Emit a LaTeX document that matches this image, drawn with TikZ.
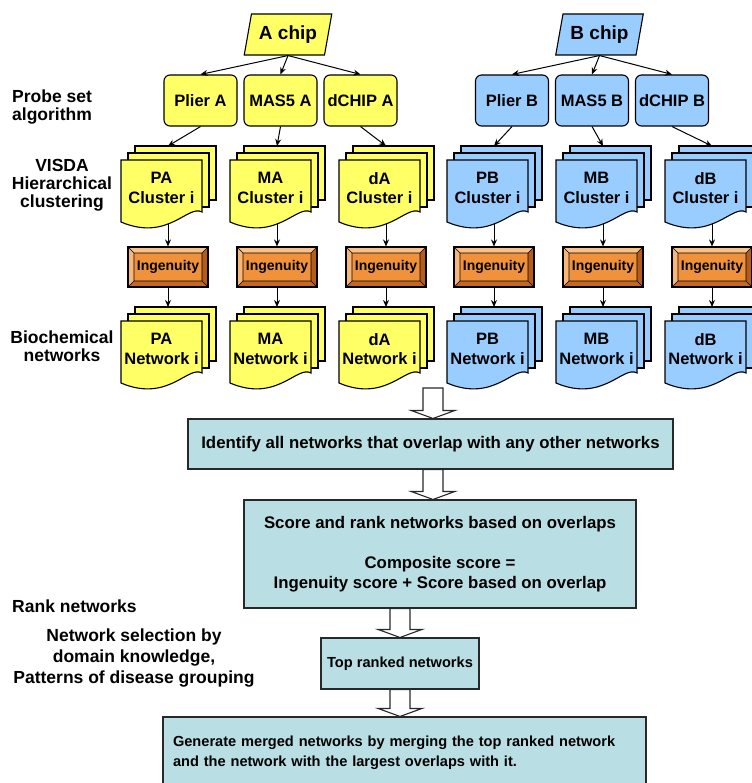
\documentclass[tikz,border=0pt]{standalone}
\usepackage{fontspec}
\setmainfont{Liberation Sans}
\usetikzlibrary{shapes.geometric,calc,arrows.meta}

\definecolor{chipyellow}{RGB}{255,255,102}
\definecolor{chipblue}{RGB}{153,204,255}
\definecolor{ingorange}{RGB}{240,145,60}
\definecolor{inglight}{RGB}{250,192,135}
\definecolor{ingdark}{RGB}{180,92,28}
\definecolor{flowteal}{RGB}{185,222,227}
\definecolor{edgegray}{RGB}{40,40,40}
\def\chipfont{\fontsize{19}{22}\selectfont\bfseries}
\def\docfont{\fontsize{16.5}{19.5}\selectfont\bfseries}
\def\ingfont{\fontsize{14}{16}\selectfont\bfseries}
\def\sidefont{\fontsize{17.5}{18}\selectfont\bfseries}
\def\selfont{\fontsize{17.5}{21}\selectfont\bfseries}
\def\flowfont{\fontsize{16.8}{20}\selectfont\bfseries}
\def\smallflowfont{\fontsize{14.6}{20}\selectfont\bfseries}
\tikzstyle{chip}=[draw,trapezium,trapezium left angle=72,trapezium right angle=108,
                  trapezium stretches=true,minimum width=88pt,minimum height=41pt,
                  inner sep=0pt,line width=1.1pt,font=\chipfont]
\tikzstyle{algo}=[draw,rounded corners=6pt,minimum width=73pt,minimum height=51pt,
                  inner sep=0pt,line width=1.1pt,font=\docfont]
\tikzstyle{sheet}=[draw,line width=1.1pt]
\tikzstyle{doctext}=[align=center,inner sep=0pt,font=\docfont]
\tikzstyle{ingenuity}=[draw,fill=ingorange,line width=1.1pt,minimum width=80pt,
                  minimum height=40pt,inner sep=0pt,font=\ingfont,
  path picture={
    \path (path picture bounding box.north west) coordinate (bnw)
          (path picture bounding box.north east) coordinate (bne)
          (path picture bounding box.south east) coordinate (bse)
          (path picture bounding box.south west) coordinate (bsw);
    \path ([shift={(6pt,-6pt)}]bnw) coordinate (inw)
          ([shift={(-6pt,-6pt)}]bne) coordinate (ine)
          ([shift={(-6pt,6pt)}]bse) coordinate (ise)
          ([shift={(6pt,6pt)}]bsw) coordinate (isw);
    \fill[inglight] (bnw) -- (bne) -- (ine) -- (inw) -- cycle;
    \fill[inglight!80!ingorange] (bnw) -- (inw) -- (isw) -- (bsw) -- cycle;
    \fill[ingdark] (bne) -- (bse) -- (ise) -- (ine) -- cycle;
    \fill[ingdark!75!ingorange] (bsw) -- (isw) -- (ise) -- (bse) -- cycle;
    \draw[line width=0.6pt] (inw) rectangle (ise) (bnw) -- (inw) (bne) -- (ine)
          (bse) -- (ise) (bsw) -- (isw);
  }]
\tikzstyle{flow}=[draw=edgegray,fill=flowteal,line width=1.1pt,align=center,inner sep=0pt]
\tikzstyle{side}=[inner sep=0pt,font=\sidefont]
\tikzstyle{link}=[-{Stealth[length=7pt,width=6pt]},line width=1pt]
\tikzstyle{hollow}=[draw=edgegray,fill=white,line width=1.1pt]

% stack of three sheets: name, top of front sheet, colour, text
\newcommand{\docstack}[4]{%
  \begin{scope}[shift={(#2)}]
    \filldraw[sheet,fill=#3] (-33,-14) rectangle (48,40);
    \filldraw[sheet,fill=#3] (-40,-7) rectangle (41,47);
    \filldraw[sheet,fill=#3] (-47,0) -- (34,0) -- (34,52)
      .. controls (20,44) and (0,82) .. (-47,62) -- cycle;
    \node[doctext] (#1) at (-6.5,28) {#4};
    \coordinate (#1-in) at (0,-14);
    \coordinate (#1-out) at (0,63);
  \end{scope}}
% hollow block arrow pointing down
\newcommand{\blockarrow}[2]{%
  \draw[hollow] let \p1=(#1), \p2=(#2) in
    (\x1-10pt,\y1) -- (\x1-10pt,\y2+8pt) -- (\x1-22pt,\y2+8pt) -- (\x1,\y2)
    -- (\x1+22pt,\y2+8pt) -- (\x1+10pt,\y2+8pt) -- (\x1+10pt,\y1) -- cycle;}

\begin{document}
\begin{tikzpicture}[x=1pt,y=-1pt]
  \useasboundingbox (0,0) rectangle (751,783);

  % Row labels
  \node[side,anchor=west,align=left] (probe) at (12,107) {Probe set\\algorithm};
  \node[side,align=center] (visda) at (62,185) {VISDA\\Hierarchical\\clustering};
  \node[side,align=center] (biochem) at (62,346) {Biochemical\\networks};
  \node[side,anchor=west] (rank) at (12,606) {Rank networks};
  \node[side,align=center,font=\selfont] (select) at (134,658)
    {Network selection by\\domain knowledge,\\Patterns of disease grouping};

  % A chip
  \node[chip,fill=chipyellow] (achip) at (288,34.5) {A chip};
  \node[algo,fill=chipyellow] (aplier) at (200.5,100.5) {Plier A};
  \node[algo,fill=chipyellow] (amas) at (280.5,100.5) {MAS5 A};
  \node[algo,fill=chipyellow] (adchip) at (360.5,100.5) {dCHIP A};

  \docstack{pacl}{168,160}{chipyellow}{PA\\Cluster i}
  \docstack{macl}{277,160}{chipyellow}{MA\\Cluster i}
  \docstack{dacl}{386,160}{chipyellow}{dA\\Cluster i}

  \node[ingenuity] (paing) at (168,267) {Ingenuity};
  \node[ingenuity] (maing) at (277,267) {Ingenuity};
  \node[ingenuity] (daing) at (386,267) {Ingenuity};

  \docstack{panet}{168,321}{chipyellow}{PA\\Network i}
  \docstack{manet}{277,321}{chipyellow}{MA\\Network i}
  \docstack{danet}{386,321}{chipyellow}{dA\\Network i}

  \draw[link] (achip.south) -- (aplier.north);
  \draw[link] (achip.south) -- (amas.north);
  \draw[link] (achip.south) -- (adchip.north);
  \draw[link] (aplier.south) -- (pacl-in);
  \draw[link] (amas.south) -- (macl-in);
  \draw[link] (adchip.south) -- (dacl-in);
  \draw[link] (pacl-out) -- (paing.north);
  \draw[link] (macl-out) -- (maing.north);
  \draw[link] (dacl-out) -- (daing.north);
  \draw[link] (paing.south) -- (panet-in);
  \draw[link] (maing.south) -- (manet-in);
  \draw[link] (daing.south) -- (danet-in);

  % B chip
  \node[chip,fill=chipblue] (bchip) at (599.5,34.5) {B chip};
  \node[algo,fill=chipblue] (bplier) at (512,100.5) {Plier B};
  \node[algo,fill=chipblue] (bmas) at (592,100.5) {MAS5 B};
  \node[algo,fill=chipblue] (bdchip) at (672,100.5) {dCHIP B};

  \docstack{pbcl}{494,160}{chipblue}{PB\\Cluster i}
  \docstack{mbcl}{603,160}{chipblue}{MB\\Cluster i}
  \docstack{dbcl}{712,160}{chipblue}{dB\\Cluster i}

  \node[ingenuity] (pbing) at (494,267) {Ingenuity};
  \node[ingenuity] (mbing) at (603,267) {Ingenuity};
  \node[ingenuity] (dbing) at (712,267) {Ingenuity};

  \docstack{pbnet}{494,321}{chipblue}{PB\\Network i}
  \docstack{mbnet}{603,321}{chipblue}{MB\\Network i}
  \docstack{dbnet}{712,321}{chipblue}{dB\\Network i}

  \draw[link] (bchip.south) -- (bplier.north);
  \draw[link] (bchip.south) -- (bmas.north);
  \draw[link] (bchip.south) -- (bdchip.north);
  \draw[link] (bplier.south) -- (pbcl-in);
  \draw[link] (bmas.south) -- (mbcl-in);
  \draw[link] (bdchip.south) -- (dbcl-in);
  \draw[link] (pbcl-out) -- (pbing.north);
  \draw[link] (mbcl-out) -- (mbing.north);
  \draw[link] (dbcl-out) -- (dbing.north);
  \draw[link] (pbing.south) -- (pbnet-in);
  \draw[link] (mbing.south) -- (mbnet-in);
  \draw[link] (dbing.south) -- (dbnet-in);

  % Overlap analysis
  \node[flow,font=\flowfont,minimum width=485pt,minimum height=50pt] (identify) at (430.5,444)
    {Identify all networks that overlap with any other networks};
  \node[flow,font=\flowfont,minimum width=392pt,minimum height=108pt] (score) at (440,554)
    {Score and rank networks based on overlaps\\[20pt]Composite score =\\Ingenuity score + Score based on overlap};
  \node[flow,font=\smallflowfont,minimum width=158pt,minimum height=51pt] (ranked) at (400,663.5)
    {Top ranked networks};
  \node[flow,font=\smallflowfont,align=left,text width=463pt,inner xsep=10pt,minimum height=72pt]
    (merge) at (404.5,753)
    {Generate merged networks by merging the top ranked network\\and the network with the largest overlaps with it.};

  \coordinate (netbase) at (433,388);
  \blockarrow{netbase}{identify.north -| netbase}
  \blockarrow{identify.south -| netbase}{score.north -| netbase}
  \blockarrow{score.south -| ranked}{ranked.north}
  \blockarrow{ranked.south}{merge.north -| ranked}
\end{tikzpicture}
\end{document}
